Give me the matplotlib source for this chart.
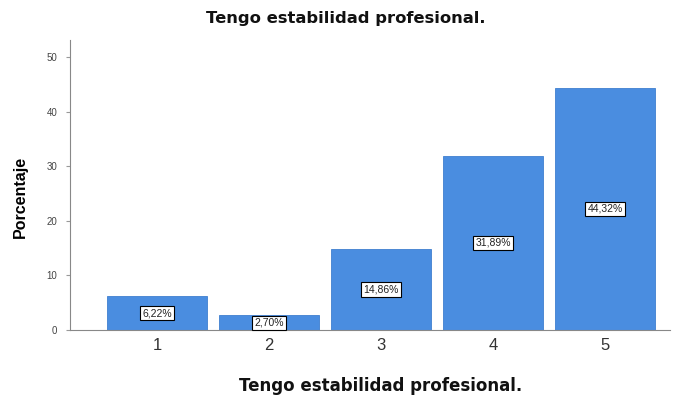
import matplotlib.pyplot as plt

plt.rcParams['font.family'] = ['Liberation Sans', 'DejaVu Sans']

# Porcentaje de respuestas por nivel de acuerdo
categorias = ['1', '2', '3', '4', '5']
porcentajes = [6.22, 2.70, 14.86, 31.89, 44.32]
etiquetas = ['6,22%', '2,70%', '14,86%', '31,89%', '44,32%']
y_ticks = [0, 10, 20, 30, 40, 50]

fig = plt.figure(figsize=(6.85, 4), dpi=100)
ax = fig.add_axes([0.102, 0.175, 0.876, 0.725])

pos = list(range(1, len(categorias) + 1))
bars = ax.bar(pos, porcentajes, width=0.89, color='#4a8de0', edgecolor='#3f7fcf', linewidth=0.6)

for b, txt in zip(bars, etiquetas):
    ax.text(b.get_x() + b.get_width() / 2, b.get_height() / 2, txt,
            ha='center', va='center', fontsize=7.5, color='#222222',
            bbox=dict(boxstyle='square,pad=0.2', facecolor='white', edgecolor='black', linewidth=0.8))

ax.set_xlim(0.22, 5.58)
ax.set_ylim(0, 53.1)
ax.set_xticks(pos)
ax.set_xticklabels(categorias, fontsize=12, color='#333333')
ax.set_yticks(y_ticks)
ax.set_yticklabels([str(t) for t in y_ticks], fontsize=7, color='#444444')
ax.tick_params(axis='x', length=0, pad=6)
ax.tick_params(axis='y', length=3, color='#999999', pad=6)

for s in ['top', 'right']:
    ax.spines[s].set_visible(False)
for s in ['left', 'bottom']:
    ax.spines[s].set_color('#888888')
    ax.spines[s].set_linewidth(0.8)

# título y etiqueta del eje x
fig.text(0.505, 0.953, 'Tengo estabilidad profesional.', ha='center', va='center',
         fontsize=11.8, fontweight='bold', family='DejaVu Sans', color='#111111')
fig.text(0.555, 0.035, 'Tengo estabilidad profesional.', ha='center', va='center',
         fontsize=12, fontweight='bold', family='DejaVu Sans', color='#111111')
ax.set_ylabel('Porcentaje', fontsize=11.5, fontweight='bold')
ax.yaxis.set_label_coords(-0.07, 0.46)

fig.savefig('out.png', dpi=100)
